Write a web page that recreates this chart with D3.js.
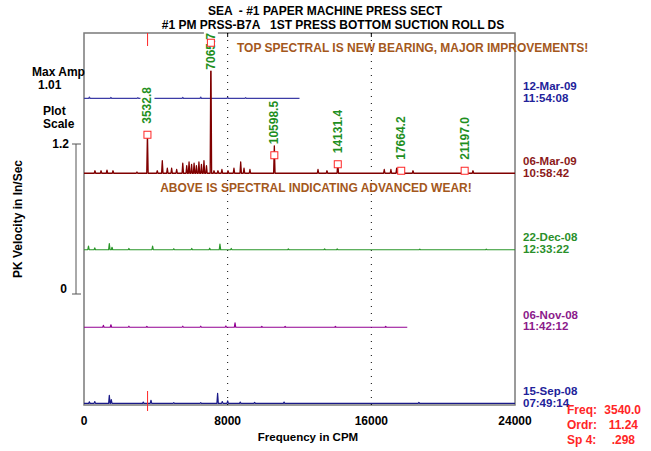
<!DOCTYPE html>
<html>
<head>
<meta charset="utf-8">
<script src="https://cdn.jsdelivr.net/npm/d3@7"></script>
<style>
  body { margin: 0; background: #fff; }
  text { font-family: "Liberation Sans", Arial, sans-serif; font-weight: bold; white-space: pre; }
</style>
</head>
<body>
<svg id="chart"></svg>
<script>
// ---- data ----
const titleLines = ["SEA  - #1 PAPER MACHINE PRESS SECT", "#1 PM PRSS-B7A   1ST PRESS BOTTOM SUCTION ROLL DS"];
const dates = ["12-Mar-09", "06-Mar-09", "22-Dec-08", "06-Nov-08", "15-Sep-08"];
const times = ["11:54:08", "10:58:42", "12:33:22", "11:42:12", "07:49:14"];
const traceOffsets = [1.56, 0.96, 0.35, -0.27, -0.88];   // waterfall offset, in/sec
const traceMax = [12000, 24000, 24000, 18000, 24000];     // CPM
const traceFloor = [0.005, 0.006, 0.004, 0.004, 0.005];

// spectra peaks: [CPM, amplitude above floor]
const peaks12Mar = [[300, 0.01], [1500, 0.008], [3000, 0.006], [5500, 0.008], [6500, 0.01], [8000, 0.008], [9000, 0.006]];
const peaks06Mar = [[610, 0.02], [950, 0.02], [1280, 0.025], [1615, 0.02], [2950, 0.01], [3532.8, 0.32],
  [4080, 0.02], [4360, 0.10], [4640, 0.04], [4880, 0.04], [5160, 0.03], [5500, 0.08], [5720, 0.06],
  [5850, 0.09], [5990, 0.07], [6130, 0.08], [6260, 0.06], [6400, 0.09], [6540, 0.07], [6680, 0.10],
  [6820, 0.06], [7065.7, 1.05], [7240, 0.02], [7460, 0.02], [7680, 0.03], [8020, 0.02], [8350, 0.04],
  [8725, 0.09], [8910, 0.04], [9240, 0.03], [10598.5, 0.22], [13030, 0.03], [13530, 0.02],
  [14131.4, 0.085], [16720, 0.03], [17090, 0.03], [17410, 0.04], [17664.2, 0.04], [18320, 0.02],
  [21197.0, 0.02], [21660, 0.02]];
const peaks22Dec = [[250, 0.03], [600, 0.015], [1410, 0.05], [1560, 0.02], [2500, 0.01], [3820, 0.03],
  [5000, 0.008], [6000, 0.01], [7000, 0.012], [7570, 0.045], [8200, 0.01], [11380, 0.006],
  [13400, 0.006], [14100, 0.006], [18700, 0.005], [22400, 0.005]];
const peaks06Nov = [[1080, 0.015], [1500, 0.02], [2500, 0.008], [3500, 0.006], [5500, 0.008], [6500, 0.008],
  [7900, 0.01], [8410, 0.035], [9900, 0.006], [11200, 0.006], [14000, 0.006], [16800, 0.006]];
const peaks15Sep = [[300, 0.012], [600, 0.015], [1410, 0.065], [1520, 0.03], [3300, 0.01], [3730, 0.025],
  [5000, 0.006], [6500, 0.006], [7440, 0.08], [7700, 0.015], [8000, 0.02], [8700, 0.01], [9500, 0.008],
  [11140, 0.01], [18650, 0.008]];
const allPeaks = [peaks12Mar, peaks06Mar, peaks22Dec, peaks06Nov, peaks15Sep];

// harmonic markers on the 06-Mar-09 spectrum
const markerFreqs = [3532.8, 7065.7, 10598.5, 14131.4, 17664.2, 21197.0];
const markerAmps = [0.314, 1.05, 0.15, 0.078, 0.026, 0.026];

const xTicks = [0, 8000, 16000, 24000];
const scaleTicks = [0, 1.2];
const maxAmp = "1.01";
const cursorFreq = 3540.0;
const readLabels = ["Freq:", "Ordr:", "Sp 4:"];
const readValues = ["3540.0", "11.24", ".298"];
const notes = ["TOP SPECTRAL IS NEW BEARING, MAJOR IMPROVEMENTS!", "ABOVE IS SPECTRAL INDICATING ADVANCED WEAR!"];

// ---- layout ----
const W = 651, H = 451;
const pLeft = 84, pRight = 515, pTop = 33, pBottom = 405;
const traceColors = ["#3c3ca6", "#800000", "#2a962a", "#920092", "#1a1a88"];
const labelColors = ["#22229a", "#8b1a1a", "#2a8f2a", "#8b1a8b", "#22229a"];
const noteColor = "#a4581c";
const hiRed = "#ff2626";
const labelGreen = "#1f8f1f";

const svg = d3.select("#chart").attr("width", W).attr("height", H);

const x = d3.scaleLinear().domain([0, 24000]).range([pLeft, pRight]);
const y = d3.scaleLinear().domain([-0.888, 2.088]).range([pBottom, pTop]);

// titles
svg.selectAll("text.title")
  .data(titleLines)
  .enter().append("text")
  .attr("class", "title")
  .attr("x", (d, i) => i === 0 ? 325 : 333)
  .attr("y", (d, i) => 15 + i * 14)
  .attr("text-anchor", "middle")
  .attr("font-size", 12)
  .text(d => d);

// frame
svg.append("rect")
  .attr("x", pLeft).attr("y", pTop)
  .attr("width", pRight - pLeft).attr("height", pBottom - pTop)
  .attr("fill", "none").attr("stroke", "#7a7a7a").attr("stroke-width", 1.5);

// dotted grid + top ticks
xTicks.slice(1, -1).forEach(t => {
  svg.append("line")
    .attr("x1", x(t)).attr("x2", x(t)).attr("y1", pTop).attr("y2", pBottom)
    .attr("stroke", "#000").attr("stroke-dasharray", "1,6");
  svg.append("line")
    .attr("x1", x(t)).attr("x2", x(t)).attr("y1", pTop).attr("y2", pTop + 4)
    .attr("stroke", "#000");
});

// x axis tick labels
svg.selectAll("text.xt")
  .data(xTicks)
  .enter().append("text")
  .attr("class", "xt")
  .attr("x", d => x(d))
  .attr("y", 425)
  .attr("text-anchor", "middle")
  .attr("font-size", 12)
  .text(d => d);

svg.append("text")
  .attr("x", 308).attr("y", 441)
  .attr("text-anchor", "middle")
  .attr("font-size", 11.5)
  .text("Frequency in CPM");

// y title + scale bar
svg.append("text")
  .attr("transform", "translate(22,219) rotate(-90)")
  .attr("text-anchor", "middle")
  .attr("font-size", 12)
  .text("PK Velocity in In/Sec");

svg.append("line")
  .attr("x1", 76).attr("x2", 76)
  .attr("y1", y(scaleTicks[0])).attr("y2", y(scaleTicks[1]))
  .attr("stroke", "#555");
svg.selectAll("line.st")
  .data(scaleTicks)
  .enter().append("line")
  .attr("class", "st")
  .attr("x1", 72).attr("x2", 81)
  .attr("y1", d => y(d)).attr("y2", d => y(d))
  .attr("stroke", "#555");
svg.selectAll("text.st")
  .data(scaleTicks)
  .enter().append("text")
  .attr("class", "st")
  .attr("x", (d, i) => i === 0 ? 67 : 69)
  .attr("y", (d, i) => y(d) + (i === 0 ? -1 : 4))
  .attr("text-anchor", "end")
  .attr("font-size", 12)
  .text(d => d);

svg.append("text").attr("x", 32).attr("y", 76).attr("font-size", 12).text("Max Amp");
svg.append("text").attr("x", 38).attr("y", 89).attr("font-size", 12).text(maxAmp);
svg.append("text").attr("x", 43).attr("y", 115).attr("font-size", 12).text("Plot");
svg.append("text").attr("x", 43).attr("y", 128).attr("font-size", 12).text("Scale");

// traces
const line = d3.line().x(d => x(d[0])).y(d => y(d[1]));
allPeaks.forEach((pk, i) => {
  const base = traceOffsets[i], fl = traceFloor[i];
  const pts = [[0, base + fl]];
  pk.forEach(p => {
    pts.push([p[0] - 40, base + fl], [p[0], base + fl + p[1]], [p[0] + 40, base + fl]);
  });
  pts.push([traceMax[i], base + fl]);
  svg.append("path")
    .attr("d", line(pts))
    .attr("fill", "none")
    .attr("stroke", traceColors[i])
    .attr("stroke-width", i === 1 ? 1.3 : 1.2)
    .attr("stroke-linejoin", "round");
});

// date / time labels
dates.forEach((d, i) => {
  const by = y(traceOffsets[i]);
  svg.append("text").attr("x", 523).attr("y", by - 9)
    .attr("font-size", 11.5).attr("fill", labelColors[i]).text(d);
  svg.append("text").attr("x", 523).attr("y", by + 2.5)
    .attr("font-size", 11.5).attr("fill", labelColors[i]).text(times[i]);
});

// notes
svg.append("text").attr("x", 237).attr("y", 52)
  .attr("font-size", 12).attr("fill", noteColor).text(notes[0]);
svg.append("text").attr("x", 316).attr("y", 192)
  .attr("text-anchor", "middle")
  .attr("font-size", 12).attr("fill", noteColor).text(notes[1]);

// harmonic labels (rotated) with white backing
const redBase = traceOffsets[1];
markerFreqs.forEach((f, i) => {
  const mx = x(f), my = y(redBase + markerAmps[i]);
  const g = svg.append("g");
  const t = g.append("text")
    .attr("font-size", 12).attr("fill", labelGreen)
    .attr("dominant-baseline", "central")
    .text(f.toFixed(1));
  const len = t.node().getComputedTextLength();
  const by = Math.max(my - 11, pTop + len);
  g.attr("transform", `translate(${mx},${by}) rotate(-90)`);
  g.insert("rect", "text")
    .attr("x", -1).attr("y", -7).attr("width", len + 2).attr("height", 14)
    .attr("fill", "#fff");
});

// markers
svg.selectAll("rect.mk")
  .data(markerFreqs)
  .enter().append("rect")
  .attr("class", "mk")
  .attr("x", d => x(d) - 3.5)
  .attr("y", (d, i) => y(redBase + markerAmps[i]) - 3.5)
  .attr("width", 7).attr("height", 7)
  .attr("fill", "#fff").attr("stroke", hiRed).attr("stroke-width", 1);

// cursor
svg.append("line")
  .attr("x1", x(cursorFreq)).attr("x2", x(cursorFreq)).attr("y1", pTop).attr("y2", pTop + 13)
  .attr("stroke", hiRed);
svg.append("line")
  .attr("x1", x(cursorFreq)).attr("x2", x(cursorFreq)).attr("y1", pBottom - 14).attr("y2", pBottom + 6)
  .attr("stroke", hiRed);

// cursor readout
readLabels.forEach((l, i) => {
  svg.append("text").attr("x", 567).attr("y", 414 + i * 15)
    .attr("font-size", 12).attr("fill", hiRed).text(l);
  svg.append("text").attr("x", 641 - i * 3).attr("y", 414 + i * 15)
    .attr("text-anchor", "end")
    .attr("font-size", 12).attr("fill", hiRed).text(readValues[i]);
});
</script>
</body>
</html>
